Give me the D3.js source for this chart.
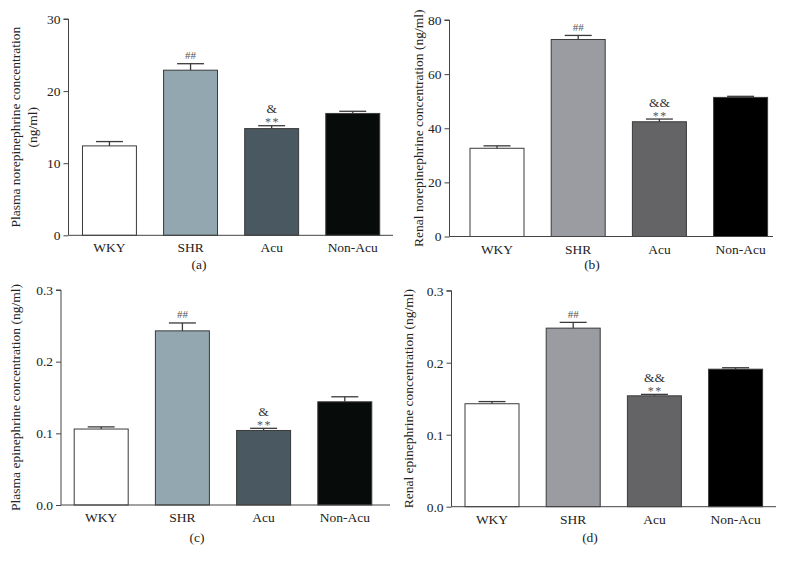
<!DOCTYPE html>
<html>
<head>
<meta charset="utf-8">
<script src="https://cdn.jsdelivr.net/npm/d3@7"></script>
<style>
  html, body { margin: 0; padding: 0; background: #fff; }
  svg { display: block; }
  text { font-family: "Liberation Serif", "DejaVu Serif", serif; fill: #222; }
</style>
</head>
<body>
<svg id="chart" width="789" height="566"></svg>
<script>
// ---------- data ----------
const categories = ["WKY", "SHR", "Acu", "Non-Acu"];

const plasmaNE     = [12.4, 22.9, 14.8, 16.9];
const plasmaNEErr  = [0.6, 0.9, 0.4, 0.3];
const renalNE      = [32.6, 72.8, 42.4, 51.4];
const renalNEErr   = [0.9, 1.5, 1.0, 0.4];
const plasmaE      = [0.106, 0.243, 0.104, 0.144];
const plasmaEErr   = [0.003, 0.011, 0.003, 0.007];
const renalE       = [0.143, 0.248, 0.154, 0.191];
const renalEErr    = [0.003, 0.008, 0.002, 0.002];

const ticksNE  = [0, 10, 20, 30];
const ticksRNE = [0, 20, 40, 60, 80];
const ticksE   = [0, 0.1, 0.2, 0.3];

const marksHash = ["", "##", "", ""];
const marksStar = ["", "", "**", ""];
const marksAmpA = ["", "", "&", ""];
const marksAmpB = ["", "", "&&", ""];
const marksAmpC = ["", "", "&", ""];
const marksAmpD = ["", "", "&&", ""];

const colorsBlue = ["#ffffff", "#93a7b0", "#4a5961", "#070b0a"];
const colorsGray = ["#ffffff", "#9a9ca2", "#646466", "#000000"];

// ---------- layout ----------
const FS = 13.5;
const panels = [
  { values: plasmaNE, errs: plasmaNEErr, ticks: ticksNE, fmt: d3.format("d"), colors: colorsBlue, amp: marksAmpA,
    axisX: 68.5, axisEnd: 393, y0: 235.3, y1: 19, band: [68.9, 393.3],
    title: ["Plasma norepinephrine concentration", "(ng/ml)"], titleX: [19.5, 36.5], caption: "(a)", capX: 199, capY: 269 },
  { values: renalNE, errs: renalNEErr, ticks: ticksRNE, fmt: d3.format("d"), colors: colorsGray, amp: marksAmpB,
    axisX: 449.5, axisEnd: 773, y0: 236.5, y1: 20, band: [456.4, 781.2],
    title: ["Renal norepinephrine concentration (ng/ml)"], titleX: [422.5], caption: "(b)", capX: 592, capY: 269 },
  { values: plasmaE, errs: plasmaEErr, ticks: ticksE, fmt: d3.format(".1f"), colors: colorsBlue, amp: marksAmpC,
    axisX: 61, axisEnd: 390, y0: 505, y1: 290, band: [60.6, 385.4],
    title: ["Plasma epinephrine concentration (ng/ml)"], titleX: [19.5], caption: "(c)", capX: 197, capY: 542 },
  { values: renalE, errs: renalEErr, ticks: ticksE, fmt: d3.format(".1f"), colors: colorsGray, amp: marksAmpD,
    axisX: 451.5, axisEnd: 776, y0: 506.7, y1: 290.7, band: [451.4, 776.2],
    title: ["Renal epinephrine concentration (ng/ml)"], titleX: [412.5], caption: "(d)", capX: 590, capY: 542 }
];

const svg = d3.select("#chart");
const strokeCol = "#3a3a3a";

panels.forEach(p => {
  const g = svg.append("g");
  const y = d3.scaleLinear()
    .domain([p.ticks[0], p.ticks[p.ticks.length - 1]])
    .range([p.y0, p.y1]);
  const x = d3.scaleBand()
    .domain(categories)
    .range(p.band)
    .paddingInner(0.335)
    .paddingOuter(0.1675);

  // bars
  g.selectAll("rect.bar").data(categories).enter().append("rect")
    .attr("class", "bar")
    .attr("x", d => x(d))
    .attr("width", x.bandwidth())
    .attr("y", (d, i) => y(p.values[i]))
    .attr("height", (d, i) => y(0) - y(p.values[i]))
    .attr("fill", (d, i) => p.colors[i])
    .attr("stroke", strokeCol)
    .attr("stroke-width", 1);

  // error bars (upper only)
  const cap = x.bandwidth() / 2;
  categories.forEach((c, i) => {
    const cx = x(c) + x.bandwidth() / 2;
    const yt = y(p.values[i] + p.errs[i]);
    g.append("line").attr("x1", cx).attr("x2", cx)
      .attr("y1", y(p.values[i])).attr("y2", yt)
      .attr("stroke", strokeCol).attr("stroke-width", 1.3);
    g.append("line").attr("x1", cx - cap / 2).attr("x2", cx + cap / 2)
      .attr("y1", yt).attr("y2", yt)
      .attr("stroke", strokeCol).attr("stroke-width", 1.3);
    if (marksHash[i]) {
      g.append("text").attr("x", cx).attr("y", yt - 4.5)
        .attr("text-anchor", "middle").attr("font-size", 11)
        .style("fill", "#555").text(marksHash[i]);
    }
    if (marksStar[i]) {
      g.append("text").attr("x", cx + 0.8).attr("y", yt + 0.5)
        .attr("text-anchor", "middle").attr("font-size", 12)
        .attr("letter-spacing", 1.5)
        .style("fill", "#555").text(marksStar[i]);
    }
    if (p.amp[i]) {
      g.append("text").attr("x", cx).attr("y", yt - 12.5)
        .attr("text-anchor", "middle").attr("font-size", 13.5)
        .style("fill", "#333").text(p.amp[i]);
    }
  });

  // y axis
  const yAxis = d3.axisLeft(y).tickValues(p.ticks).tickFormat(p.fmt).tickSize(5).tickPadding(3);
  const ya = g.append("g").attr("transform", `translate(${p.axisX},0)`).call(yAxis);
  ya.select(".domain").attr("d", `M-5,${y(p.ticks[p.ticks.length-1])}H0V${y(0)}`).attr("stroke", "#444");
  ya.selectAll(".tick line").attr("stroke", "#444");
  ya.selectAll(".tick text").attr("font-size", FS).attr("font-family", "Liberation Serif").style("fill", "#222");

  // x axis baseline
  g.append("line").attr("x1", p.axisX).attr("x2", p.axisEnd)
    .attr("y1", y(0)).attr("y2", y(0)).attr("stroke", "#444").attr("stroke-width", 1);

  // x tick labels
  g.selectAll("text.xl").data(categories).enter().append("text")
    .attr("class", "xl")
    .attr("x", d => x(d) + x.bandwidth() / 2)
    .attr("y", y(0) + 17)
    .attr("text-anchor", "middle").attr("font-size", FS)
    .text(d => d);

  // y title
  const yc = (p.y0 + p.y1) / 2;
  p.title.forEach((t, k) => {
    g.append("text")
      .attr("transform", `translate(${p.titleX[k]},${yc}) rotate(-90)`)
      .attr("text-anchor", "middle").attr("font-size", FS)
      .text(t);
  });

  // caption
  g.append("text").attr("x", p.capX).attr("y", p.capY)
    .attr("text-anchor", "middle").attr("font-size", FS).text(p.caption);
});
</script>
</body>
</html>
